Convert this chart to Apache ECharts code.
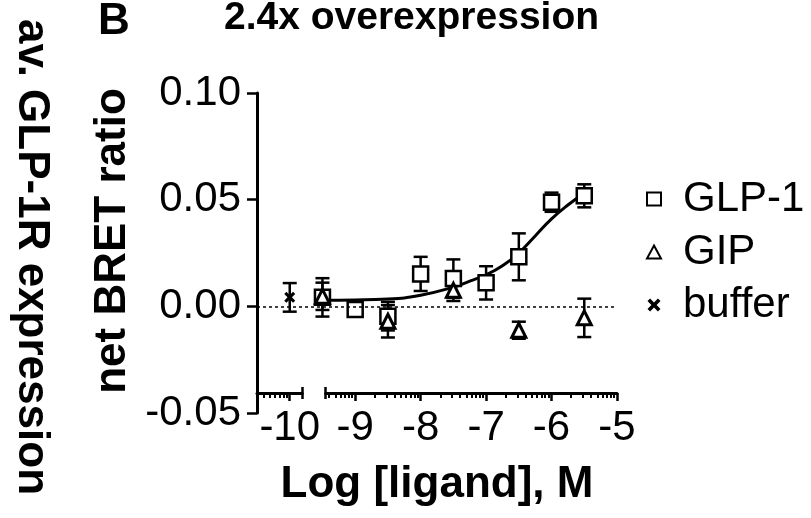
<!DOCTYPE html>
<html>
<head>
<meta charset="utf-8">
<script src="https://cdn.jsdelivr.net/npm/echarts@6/dist/echarts.min.js"></script>
<style>
  body { margin: 0; background: #fff; }
</style>
</head>
<body>
<div id="chart" style="width: 811px; height: 518px"></div>
<script>
// GLP-1 (squares)
const glpX = [-9.5, -9, -8.5, -8, -7.5, -7, -6.5, -6, -5.5];
const glpMean = [0.0042, -0.0015, -0.0046, 0.0152, 0.013, 0.011, 0.0232, 0.0488, 0.0518];
const glpSem = [0.009, 0, 0.0067, 0.008, 0.009, 0.0078, 0.011, 0.0045, 0.0054];
// GIP (triangles)
const gipX = [-9.5, -8.5, -7.5, -6.5, -5.5];
const gipMean = [0.0047, -0.007, 0.0075, -0.0112, -0.0054];
const gipSem = [0.0064, 0.0076, 0.005, 0.004, 0.009];
// buffer (cross)
const bufX = [-10];
const bufMean = [0.0042];
const bufSem = [0.0067];
// fitted curve
const fitX = [-9.5, -9, -8.5, -8, -7.5, -7.25, -7, -6.75, -6.5, -6.25, -6, -5.75, -5.5];
const fitY = [0.0029, 0.003, 0.0034, 0.0052, 0.009, 0.0118, 0.0148, 0.019, 0.025, 0.033, 0.041, 0.0475, 0.053];
// axis ticks
const yTicks = [-0.05, 0, 0.05, 0.1];
const xLabels1 = [-10];
const xLabels2 = [-9, -8, -7, -6, -5];

const font = "'Liberation Sans', Arial, Helvetica, sans-serif";
const xMin = -10.5, xMax = -5;
const seg1 = [-10.5, -9.81];
const seg2 = [-9.45, -5];
const plotLeft = 257, plotWidth = 360;
const pxPerDec = plotWidth / (xMax - xMin);

// log-spaced minor ticks, like a log concentration axis
const minorTicks = [];
for (let d = -11; d < -5; d++) {
  for (let k = 2; k <= 9; k++) minorTicks.push(d + Math.log10(k));
}
const inRange = (arr, r) => arr.filter((v) => v >= r[0] && v <= r[1]);

const zip = (xs, ys) => xs.map((x, i) => [x, ys[i]]);
const errData = (xs, m, s) => xs.map((x, i) => [x, m[i] - s[i], m[i] + s[i]]);

function renderErr(params, api) {
  const x = api.value(0);
  const lo = api.coord([x, api.value(1)]);
  const hi = api.coord([x, api.value(2)]);
  const w = 7;
  const st = { stroke: "#000", lineWidth: 2.5 };
  return {
    type: "group",
    children: [
      { type: "line", shape: { x1: lo[0], y1: lo[1], x2: hi[0], y2: hi[1] }, style: st },
      { type: "line", shape: { x1: lo[0] - w, y1: lo[1], x2: lo[0] + w, y2: lo[1] }, style: st },
      { type: "line", shape: { x1: hi[0] - w, y1: hi[1], x2: hi[0] + w, y2: hi[1] }, style: st },
    ],
  };
}

function segGrid(r) {
  return {
    left: plotLeft + (r[0] - xMin) * pxPerDec,
    width: (r[1] - r[0]) * pxPerDec,
    top: 93,
    height: 300,
  };
}

function segAxes(gi, r, labels) {
  const base = { gridIndex: gi, type: "value", min: r[0], max: r[1], position: "bottom", splitLine: { show: false } };
  return [
    {
      ...base,
      axisLine: { show: true, onZero: false, lineStyle: { color: "#000", width: 3 } },
      axisTick: { show: true, length: 8, customValues: labels, lineStyle: { color: "#000", width: 2.5 } },
      axisLabel: { show: true, customValues: labels, fontSize: 42, color: "#000", fontFamily: font, margin: 14 },
    },
    {
      ...base,
      axisLine: { show: false, onZero: false },
      axisTick: { show: true, length: 5, customValues: inRange(minorTicks, r), lineStyle: { color: "#000", width: 2 } },
      axisLabel: { show: false },
    },
    {
      ...base,
      offset: -6,
      axisLine: { show: false, onZero: false },
      axisTick: { show: true, length: 12, customValues: gi === 1 ? [r[1]] : [r[0]], lineStyle: { color: "#000", width: 2.5 } },
      axisLabel: { show: false },
    },
  ];
}

const myChart = echarts.init(document.getElementById("chart"));
const option = {
  animation: false,
  backgroundColor: "#fff",
  title: [
    { text: "2.4x overexpression", left: 219, top: -6, textStyle: { fontSize: 39, fontWeight: "bold", color: "#000", fontFamily: font } },
    { text: "B", left: 93, top: -5, textStyle: { fontSize: 44, fontWeight: "bold", color: "#000", fontFamily: font } },
  ],
  legend: {
    orient: "vertical",
    left: 641,
    top: 173,
    itemWidth: 14,
    itemHeight: 13,
    itemGap: 11,
    textStyle: { fontSize: 42, color: "#000", fontFamily: font, padding: [0, 0, 0, 17] },
    data: ["GLP-1", "GIP", "buffer"],
  },
  graphic: [
    {
      type: "text", x: 113, y: 241, rotation: Math.PI / 2,
      style: { text: "net BRET ratio", font: "bold 44px " + font, fill: "#000", align: "center", verticalAlign: "middle" },
    },
    {
      type: "text", x: 31, y: 257, rotation: -Math.PI / 2,
      style: { text: "av. GLP-1R expression", font: "bold 44px " + font, fill: "#000", align: "center", verticalAlign: "middle" },
    },
  ],
  grid: [
    { left: plotLeft, width: plotWidth, top: 93, height: 320 },
    segGrid(seg1),
    segGrid(seg2),
  ],
  xAxis: [
    {
      gridIndex: 0, type: "value", min: xMin, max: xMax, position: "bottom",
      name: "Log [ligand], M", nameLocation: "middle", nameGap: 50,
      nameTextStyle: { fontSize: 44, fontWeight: "bold", color: "#000", fontFamily: font },
      axisLine: { show: false, onZero: false }, axisTick: { show: false }, axisLabel: { show: false }, splitLine: { show: false },
    },
    ...segAxes(1, seg1, xLabels1),
    ...segAxes(2, seg2, xLabels2),
  ],
  yAxis: [
    {
      gridIndex: 0, type: "value", min: -0.05, max: 0.1, interval: 0.05,
      axisLine: { show: true, onZero: false, lineStyle: { color: "#000", width: 3 } },
      axisTick: { show: true, length: 10, customValues: yTicks, lineStyle: { color: "#000", width: 2.5 } },
      axisLabel: { fontSize: 42, color: "#000", fontFamily: font, margin: 16, customValues: yTicks, formatter: (v) => v.toFixed(2) },
      splitLine: { show: false },
    },
    { gridIndex: 1, type: "value", min: -0.05, max: 0.1, show: false },
    { gridIndex: 2, type: "value", min: -0.05, max: 0.1, show: false },
  ],
  series: [
    {
      type: "line", data: zip(fitX, fitY), smooth: true, showSymbol: false, z: 2,
      lineStyle: { color: "#000", width: 3 },
      markLine: {
        silent: true, symbol: "none", label: { show: false },
        lineStyle: { color: "#000", type: [3, 3], width: 1.5 },
        data: [{ yAxis: 0 }],
      },
    },
    { type: "custom", renderItem: renderErr, data: errData(glpX, glpMean, glpSem), encode: { x: 0, y: [1, 2] }, z: 3 },
    { type: "custom", renderItem: renderErr, data: errData(gipX, gipMean, gipSem), encode: { x: 0, y: [1, 2] }, z: 3 },
    { type: "custom", renderItem: renderErr, data: errData(bufX, bufMean, bufSem), encode: { x: 0, y: [1, 2] }, z: 3 },
    {
      name: "GLP-1", type: "scatter", data: zip(glpX, glpMean), symbol: "rect", symbolSize: 15, z: 4,
      itemStyle: { color: "#fff", borderColor: "#000", borderWidth: 2.5, opacity: 1 },
    },
    {
      name: "GIP", type: "scatter", data: zip(gipX, gipMean), symbol: "triangle", symbolSize: 14, z: 5,
      itemStyle: { color: "#fff", borderColor: "#000", borderWidth: 3, opacity: 1 },
    },
    {
      name: "buffer", type: "scatter", data: zip(bufX, bufMean), z: 6,
      symbol: "path://M0,2L2,0L5,3L8,0L10,2L7,5L10,8L8,10L5,7L2,10L0,8L3,5Z", symbolSize: 11,
      itemStyle: { color: "#000", opacity: 1 },
    },
  ],
};
myChart.setOption(option);
</script>
</body>
</html>
